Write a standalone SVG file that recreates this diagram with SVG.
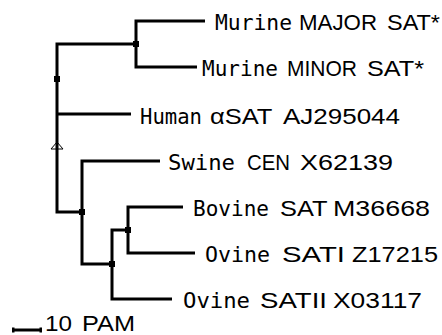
<svg xmlns="http://www.w3.org/2000/svg" width="442" height="335" viewBox="0 0 442 335">
<style>
.br{fill:none;stroke:#000;stroke-width:3;stroke-linejoin:miter;stroke-linecap:butt}
.nd{fill:#000}
.lb{font-family:"Liberation Sans",Arial,sans-serif;font-size:22px;fill:#000}
.mn{font-family:"DejaVu Sans Mono","Liberation Mono",monospace;font-size:21px}
</style>
<rect width="442" height="335" fill="#fff"/>
<g id="connectors">
<path class="br" d="M205,21 H136 V67 H197"/>
<path class="br" d="M136,44 H57 V212 H82"/>
<path class="br" d="M57,114 H131"/>
<path class="br" d="M160,161 H82 V264 H112"/>
<path class="br" d="M128,230 H112 V299 H172"/>
<path class="br" d="M183,207 H128 V253 H195"/>
</g>
<g id="node-murine"><rect class="nd" x="133" y="41" width="6" height="6"/></g>
<g id="node-root"><rect class="nd" x="54" y="76" width="6" height="6"/></g>
<g id="node-root-marker"><polygon points="57,142 51,149 63,149" fill="none" stroke="#000" stroke-width="1"/></g>
<g id="node-ungulate"><rect class="nd" x="79" y="209" width="6" height="6"/></g>
<g id="node-bovid"><rect class="nd" x="109" y="261" width="6" height="6"/></g>
<g id="node-bov-ovi"><rect class="nd" x="125" y="227" width="6" height="6"/></g>
<g id="leaf-murine-major"><text class="lb" y="30"><tspan class="mn" x="215" textLength="77" lengthAdjust="spacingAndGlyphs">Murine</tspan> <tspan x="299" textLength="78" lengthAdjust="spacingAndGlyphs">MAJOR</tspan> <tspan x="387" textLength="53" lengthAdjust="spacingAndGlyphs">SAT*</tspan></text></g>
<g id="leaf-murine-minor"><text class="lb" y="76"><tspan class="mn" x="202" textLength="76" lengthAdjust="spacingAndGlyphs">Murine</tspan> <tspan x="287" textLength="70" lengthAdjust="spacingAndGlyphs">MINOR</tspan> <tspan x="367" textLength="57" lengthAdjust="spacingAndGlyphs">SAT*</tspan></text></g>
<g id="leaf-human"><text class="lb" y="123.5"><tspan class="mn" x="140" textLength="62" lengthAdjust="spacingAndGlyphs">Human</tspan> <tspan x="210" textLength="62" lengthAdjust="spacingAndGlyphs">αSAT</tspan> <tspan x="283" textLength="117" lengthAdjust="spacingAndGlyphs">AJ295044</tspan></text></g>
<g id="leaf-swine"><text class="lb" y="170"><tspan class="mn" x="168" textLength="67" lengthAdjust="spacingAndGlyphs">Swine</tspan> <tspan x="247" textLength="43" lengthAdjust="spacingAndGlyphs">CEN</tspan> <tspan x="300" textLength="93" lengthAdjust="spacingAndGlyphs">X62139</tspan></text></g>
<g id="leaf-bovine"><text class="lb" y="216"><tspan class="mn" x="193" textLength="76" lengthAdjust="spacingAndGlyphs">Bovine</tspan> <tspan x="280" textLength="47" lengthAdjust="spacingAndGlyphs">SAT</tspan> <tspan x="333" textLength="97" lengthAdjust="spacingAndGlyphs">M36668</tspan></text></g>
<g id="leaf-ovine-sat1"><text class="lb" y="262"><tspan class="mn" x="205" textLength="65" lengthAdjust="spacingAndGlyphs">Ovine</tspan> <tspan x="282" textLength="63" lengthAdjust="spacingAndGlyphs">SATI</tspan> <tspan x="352" textLength="86" lengthAdjust="spacingAndGlyphs">Z17215</tspan></text></g>
<g id="leaf-ovine-sat2"><text class="lb" y="308"><tspan class="mn" x="183" textLength="67" lengthAdjust="spacingAndGlyphs">Ovine</tspan> <tspan x="260" textLength="67" lengthAdjust="spacingAndGlyphs">SATII</tspan> <tspan x="333" textLength="89" lengthAdjust="spacingAndGlyphs">X03117</tspan></text></g>
<g id="scale-bar">
<path d="M12,330 H42" stroke="#000" stroke-width="3"/>
<rect x="12" y="327.5" width="2.5" height="5" fill="#000"/>
<rect x="39.5" y="327.5" width="2.5" height="5" fill="#000"/>
<text class="lb" y="331"><tspan x="45" textLength="27" lengthAdjust="spacingAndGlyphs">10</tspan> <tspan x="82" textLength="53" lengthAdjust="spacingAndGlyphs">PAM</tspan></text>
</g>
</svg>
